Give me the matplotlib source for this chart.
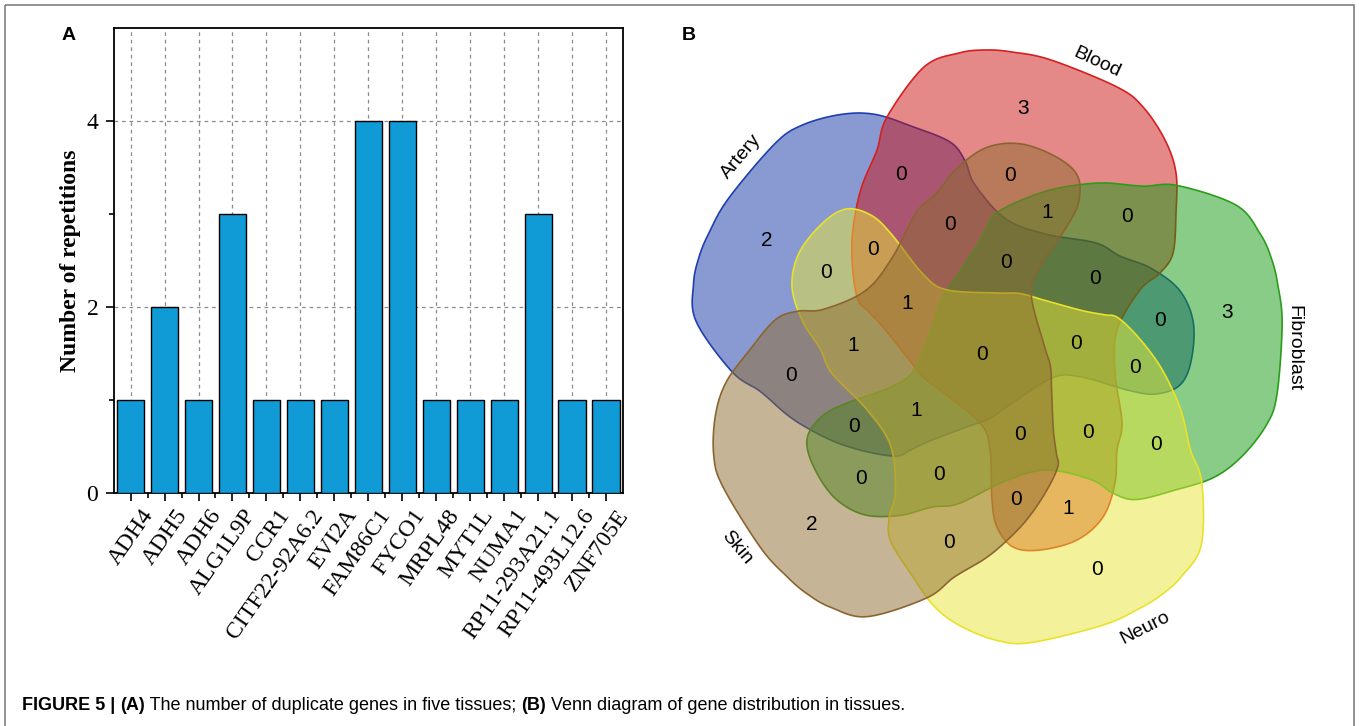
import numpy as np
import matplotlib
matplotlib.use("Agg")
import matplotlib.pyplot as plt
import matplotlib.transforms as mtrans
from matplotlib.patches import Polygon, Rectangle

W, H = 1359, 726

# ---- panel A data ----
genes = ['ADH4', 'ADH5', 'ADH6', 'ALG1L9P', 'CCR1', 'CITF22-92A6.2', 'EVI2A',
         'FAM86C1', 'FYCO1', 'MRPL48', 'MYT1L', 'NUMA1', 'RP11-293A21.1',
         'RP11-493L12.6', 'ZNF705E']
repeats = [1, 2, 1, 3, 1, 1, 1, 4, 4, 1, 1, 1, 3, 1, 1]

# ---- panel B data (sets listed clockwise from the top) ----
tissues = ['Blood', 'Fibroblast', 'Neuro', 'Skin', 'Artery']
only_one = [3, 3, 0, 2, 2]          # only set k
pair_next = [0, 0, 0, 0, 0]         # k & k+1
pair_skip = [1, 0, 0, 0, 0]         # k & k+2
triple_run = [0, 0, 1, 0, 0]        # k & k+1 & k+2
triple_split = [1, 0, 0, 0, 0]      # k & k+1 & k+3
four_without = [1, 1, 0, 0, 0]      # every set except k
all_five = 0

fill_cols = ['#cb1313', '#139b13', '#e9e737', '#8f6b2f', '#1537a9']
edge_cols = ['#d42020', '#2a9d1a', '#e8e22a', '#8b6530', '#1f3fb0']
label_pos = [(1097, 63), (1294, 348), (1145, 628), (737, 548), (741, 157)]
label_rot = [-25, -90, 27, -50, 50]

fig = plt.figure(figsize=(W / 100, H / 100), dpi=100)

# background layer in pixel units: frame, caption, venn
bg = fig.add_axes([0, 0, 1, 1])
bg.set_xlim(0, W)
bg.set_ylim(H, 0)
bg.axis('off')
bg.add_patch(Rectangle((5, 5), 1349, 740, fill=False, ec='#7f7f7f', lw=1.2))

bg.text(62, 35, 'A', fontsize=14, fontweight='bold', family='Liberation Sans', va='center')
bg.text(682, 35, 'B', fontsize=14, fontweight='bold', family='Liberation Sans', va='center')

# Venn outline of one set (Blood), px offsets from the centre
C = np.array([985.0, 351.0])
petal = np.array([
    (1, -301), (27, -299), (66, -291), (132, -264), (158, -244), (180, -211),
    (191, -178), (191, -138), (188, -98), (175, -78), (155, -61), (132, -21),
    (130, 22), (137, 72), (132, 99), (130, 132), (118, 166), (92, 189),
    (55, 199), (28, 196), (12, 176), (7, 149), (5, 99), (-5, 72), (-45, 39),
    (-62, 26), (-78, 6), (-102, -24), (-118, -41), (-127, -51), (-132, -78),
    (-133, -111), (-129, -141), (-122, -168), (-108, -201), (-98, -234),
    (-61, -284), (-26, -298)], dtype=float)


def smooth_closed(P, n=14):
    out = []
    N = len(P)
    t = np.linspace(0, 1, n, endpoint=False)[:, None]
    for i in range(N):
        p0, p1, p2, p3 = P[i - 1], P[i], P[(i + 1) % N], P[(i + 2) % N]
        out.append(0.5 * (2 * p1 + (-p0 + p2) * t + (2 * p0 - 5 * p1 + 4 * p2 - p3) * t ** 2
                          + (-p0 + 3 * p1 - 3 * p2 + p3) * t ** 3))
    return np.vstack(out)


def rot(xy, k):
    th = np.radians(72 * k)
    c, s = np.cos(th), np.sin(th)
    xy = np.atleast_2d(xy)
    return np.column_stack([xy[:, 0] * c - xy[:, 1] * s, xy[:, 0] * s + xy[:, 1] * c])


outline = smooth_closed(petal)
for k in [4, 0, 1, 2, 3]:  # Artery, Blood, Fibroblast, Neuro, Skin
    pts = rot(outline, k) + C
    bg.add_patch(Polygon(pts, closed=True, fc=fill_cols[k], alpha=0.5, ec='none'))
    bg.add_patch(Polygon(pts, closed=True, fill=False, ec=edge_cols[k], lw=1.2))

# count label spots for set k = 0, turned round the centre for the others
spots = [((38, -242), only_one), ((142, -134), pair_next), ((83, 157), pair_skip),
         ((103, 82), triple_run), ((62, -138), triple_split), ((-69, 59), four_without)]
for base, vals in spots:
    for k in range(5):
        x, y = rot(np.array(base, float), k)[0] + C
        bg.text(x, y, str(vals[k]), fontsize=15, family='Liberation Sans',
                ha='center', va='center')
bg.text(C[0] - 3, C[1] + 3, str(all_five), fontsize=15, family='Liberation Sans',
        ha='center', va='center')

for name, (x, y), r in zip(tissues, label_pos, label_rot):
    bg.text(x, y, name, fontsize=14, family='Liberation Sans', rotation=r,
            ha='center', va='center', rotation_mode='anchor')

# caption with bold parts
cap = [('FIGURE 5 | ', 'bold'), ('(A)', 'bold'), (' The number of duplicate genes in five tissues; ', 'normal'),
       ('(B)', 'bold'), (' Venn diagram of gene distribution in tissues.', 'normal')]
r = fig.canvas.get_renderer()
x = 22
for s, w in cap:
    t = bg.text(x, 705, s, fontsize=13, fontweight=w, family='Liberation Sans', va='center')
    x += t.get_window_extent(renderer=r).width

# ---- panel A ----
ax = fig.add_axes([113.6 / W, (H - 493) / H, 509.4 / W, 465 / H])
xs = np.arange(len(genes))
ax.bar(xs, repeats, width=0.8, color='#119bd6', edgecolor='black', linewidth=1, zorder=3)
ax.set_xlim(-0.5, len(genes) - 0.5)
ax.set_ylim(0, 5)
ax.set_yticks([0, 2, 4])
ax.set_yticks([1, 3], minor=True)
ax.set_xticks(xs)
ax.set_xticks(xs[:-1] + 0.5, minor=True)
ax.set_xticklabels([])
lab_tr = ax.get_xaxis_transform() + mtrans.ScaledTranslation(0.10, -0.125, fig.dpi_scale_trans)
for xi, g in zip(xs, genes):
    ax.text(xi, 0, g, transform=lab_tr, rotation=55, ha='right', va='top',
            rotation_mode='anchor', family='Liberation Serif', fontsize=17)
for lab in ax.get_yticklabels():
    lab.set_family('Liberation Serif')
    lab.set_fontsize(17)
ax.tick_params(axis='both', which='major', length=6, width=1.2, pad=3)
ax.tick_params(axis='y', which='major', pad=5)
ax.tick_params(axis='both', which='minor', length=3.5, width=1.2)
ax.grid(which='major', linestyle=(0, (3, 3)), color='#8c8c8c', linewidth=0.9)
ax.set_axisbelow(True)
for sp in ax.spines.values():
    sp.set_linewidth(1.3)
ax.set_ylabel('Number of repetitions', family='Liberation Serif', fontsize=17,
              fontweight='bold', labelpad=4)

fig.savefig('out.png', dpi=100)
